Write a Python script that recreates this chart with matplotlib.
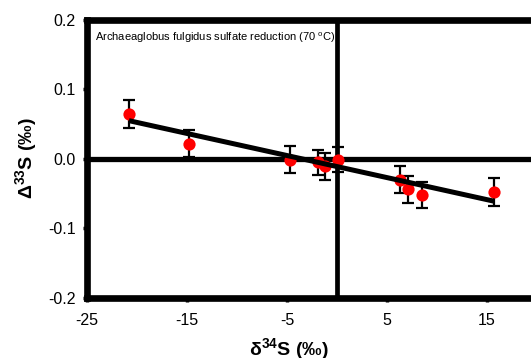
import matplotlib
matplotlib.use("Agg")
import matplotlib.pyplot as plt

plt.rcParams['font.family'] = ['Liberation Sans', 'DejaVu Sans']
plt.rcParams['mathtext.fontset'] = 'custom'
plt.rcParams['mathtext.rm'] = 'Liberation Sans'
plt.rcParams['mathtext.bf'] = 'Liberation Sans:bold'
plt.rcParams['mathtext.it'] = 'Liberation Sans:italic'

# data
d34S = [-20.8, -14.8, -4.7, -1.9, -1.2, 0.1, 6.3, 7.1, 8.5, 15.7]
D33S = [0.065, 0.022, -0.001, -0.005, -0.011, -0.001, -0.030, -0.044, -0.052, -0.048]
err = [0.020, 0.020, 0.020, 0.018, 0.019, 0.018, 0.019, 0.020, 0.019, 0.020]
fit_x = [-20.8, 15.7]
fit_y = [0.055, -0.061]
xticks = [-25, -15, -5, 5, 15]
yticks = [-0.2, -0.1, 0.0, 0.1, 0.2]
ytick_labels = ["-0.2", "-0.1", "0.0", "0.1", "0.2"]

fig = plt.figure(figsize=(5.31, 3.58), dpi=100)
ax = fig.add_axes([87/531, 1-297.7/358, (537-87)/531, (297.7-20)/358])
ax.set_xlim(-25, 20)
ax.set_ylim(-0.2, 0.2)

ax.axhline(0, color='black', lw=3.8, zorder=1)
ax.axvline(0, color='black', lw=3.4, zorder=1)

ax.errorbar(d34S, D33S, yerr=err, fmt='none', ecolor='black', elinewidth=1.6,
            capsize=4.3, capthick=1.6, zorder=2)
ax.plot(d34S, D33S, 'o', color='red', markersize=8.8, markeredgewidth=0, zorder=3)
ax.plot(fit_x, fit_y, color='black', lw=3.6, solid_capstyle='butt', zorder=4)

for s in ax.spines.values():
    s.set_linewidth(4.8)
ax.spines['right'].set_visible(False)

ax.set_xticks(xticks)
ax.set_xticklabels([str(t) for t in xticks])
ax.set_yticks(yticks)
ax.set_yticklabels(ytick_labels)
ax.tick_params(direction='out', length=3, width=2.5, labelsize=11.5)
ax.tick_params(axis='x', pad=8)
ax.tick_params(axis='y', pad=5)

ax.text(-24.2, 0.175, "Archaeaglobus fulgidus sulfate reduction (70 $^{\\mathrm{o}}$C)",
        fontsize=8, va='center', ha='left')

fig.text(289/531, 1-355/358, "δ$^{\\mathbf{34}}$S (‰)", fontsize=14, fontweight='bold',
         ha='center', va='baseline')
fig.text(26/531, 1-158.5/358, "Δ$^{\\mathbf{33}}$S (‰)", fontsize=14, fontweight='bold',
         ha='center', va='center', rotation=90)

fig.savefig("out.png", dpi=100)
